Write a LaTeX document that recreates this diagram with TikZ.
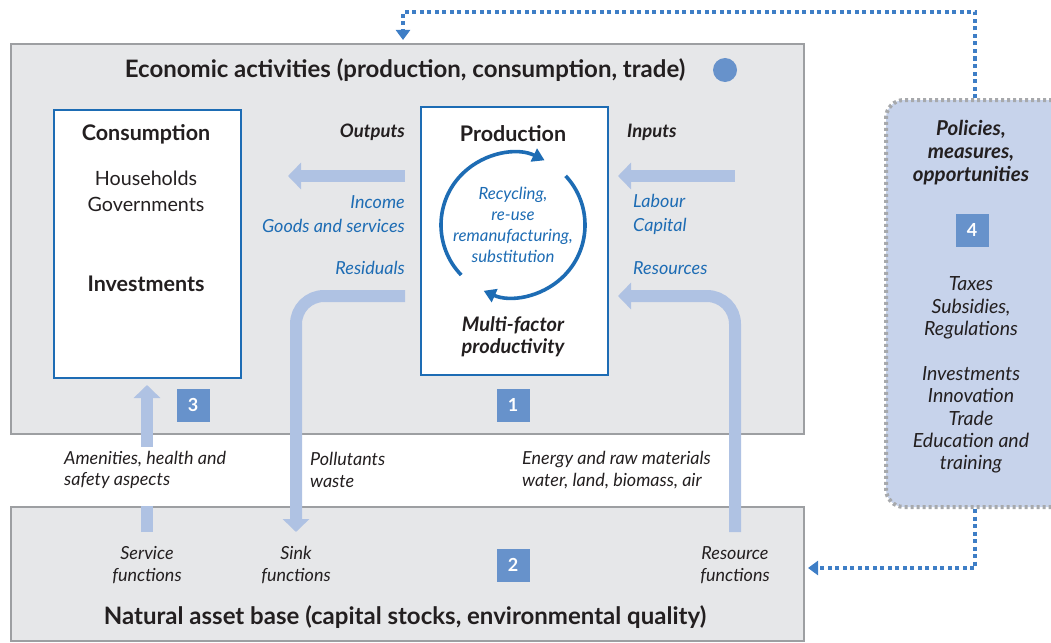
\documentclass[tikz,border=0pt]{standalone}
\usepackage{fontspec}
\setmainfont{Lato}
\usetikzlibrary{arrows.meta,positioning}
\definecolor{oecdpanel}{HTML}{E6E7E9}
\definecolor{oecdframe}{HTML}{9D9FA2}
\definecolor{oecdblue}{HTML}{1D6CB4}
\definecolor{oecdflow}{HTML}{AFC2E3}
\definecolor{oecdmid}{HTML}{6792CB}
\definecolor{oecdpale}{HTML}{C7D3EB}
\definecolor{oecddots}{HTML}{A7A9AC}
\definecolor{oecdlink}{HTML}{3E7EC6}
\definecolor{oecdtext}{HTML}{231F20}
\newcommand{\fs}[2]{\fontsize{#1}{#2}\selectfont}

\begin{document}
\begin{tikzpicture}[
  x=1pt, y=-1pt,
  font=\fs{18}{21.5}, text=oecdtext,
  panel/.style={draw=oecdframe, line width=2pt, fill=oecdpanel, anchor=north west, inner sep=0pt},
  sector/.style={draw=oecdblue, line width=2.2pt, fill=white, anchor=north west, inner sep=0pt,
                 minimum width=187pt, minimum height=268pt},
  heading/.style={font=\fs{24}{26}\bfseries},
  boxtitle/.style={font=\fs{21.5}{24}\bfseries},
  tag/.style={font=\fs{18.5}{20}\bfseries\itshape, inner sep=0pt},
  note/.style={font=\fs{18}{21.5}\itshape, align=center, inner sep=0pt},
  flowlabel/.style={note, font=\fs{18}{24}\itshape, text=oecdblue},
  policynote/.style={note, font=\fs{19.5}{22.3}\itshape},
  badge/.style={fill=oecdmid, text=white, font=\fs{18}{20}\bfseries, minimum size=33pt, inner sep=0pt},
  flow/.style={draw=oecdflow, line width=12pt, -{Triangle[width=26pt, length=13pt]}},
  flowline/.style={draw=oecdflow, line width=12pt},
  loopline/.style={draw=oecdblue, line width=3.6pt, -{Triangle[width=14pt, length=12pt]}},
  policybox/.style={draw=oecddots, line width=4pt, dash pattern=on 3pt off 3pt, fill=oecdpale,
                    rounded corners=18pt, anchor=north west, inner sep=0pt},
  policylink/.style={draw=oecdlink, line width=4pt, dash pattern=on 4pt off 3.5pt,
                     -{Triangle[width=14pt, length=10pt]}}
]
  \useasboundingbox (0,0) rectangle (1051,642);

  \node[panel, minimum width=793pt, minimum height=390pt] (econ) at (10,43) {};
  \node[panel, minimum width=793pt, minimum height=134pt] (nat) at (10,506) {};
  \node[heading] (econtitle) at (405,70) {Economic activities (production, consumption, trade)};
  \node[circle, fill=oecdmid, minimum size=24pt, inner sep=0pt] (spot) at (725,70) {};
  \node[heading] (nattitle) at (405,617) {Natural asset base (capital stocks, environmental quality)};

  \node[sector] (cons) at (53,109) {};
  \node[sector] (prod) at (420,106) {};
  \node[boxtitle] (constitle) at (146,134) {Consumption};
  \node[font=\fs{19.7}{26}, align=center] (households) at (146,191) {Households\\Governments};
  \node[boxtitle] (invest) at (146,284) {Investments};
  \node[boxtitle] (prodtitle) at (513,134) {Production};
  \node[font=\fs{20}{22}\bfseries\itshape, align=center] (mfp) at (513,337) {Multi-factor\\productivity};

  \coordinate (hub) at (513,225);
  \draw[loopline] ([shift={(224:72pt)}]hub) arc[start angle=224, end angle=64, radius=72pt];
  \draw[loopline] ([shift={(43:72pt)}]hub) arc[start angle=43, end angle=-114, radius=72pt];
  \node[flowlabel, font=\fs{16.8}{21}\itshape] (recycle) at (hub) {Recycling,\\re-use\\remanufacturing,\\substitution};

  \node[tag, anchor=east] (outputs) at (405,132) {Outputs};
  \node[flowlabel, anchor=east, align=right] (income) at (405,214) {Income\\Goods and services};
  \node[flowlabel, anchor=east] (residuals) at (405,268) {Residuals};
  \node[tag, anchor=west] (inputs) at (627,132) {Inputs};
  \node[flowlabel, anchor=west, align=left] (labour) at (633,214) {Labour\\Capital};
  \node[flowlabel, anchor=west] (resources) at (633,268) {Resources};

  \node[note, align=left, anchor=west, inner ysep=4pt] (amenities) at (64,470) {Amenities, health and\\safety aspects};
  \node[note, align=left, anchor=west] (pollutants) at (310,470) {Pollutants\\waste};
  \node[note, align=left, anchor=west] (energy) at (522,470) {Energy and raw materials\\water, land, biomass, air};
  \node[note] (service) at (147,565) {Service\\functions};
  \node[note] (sinkfn) at (296,565) {Sink\\functions};
  \node[note] (resourcefn) at (735,565) {Resource\\functions};

  \coordinate (outfrom) at (405,176);
  \coordinate (outto) at (288,176);
  \coordinate (infrom) at (735,176);
  \coordinate (into) at (618,176);
  \coordinate (residfrom) at (405,296);
  \coordinate (resto) at (618,296);
  \coordinate (sink) at (296,532);
  \coordinate (res) at (735,532);
  \coordinate (svc) at (147,532);
  \coordinate (amentip) at (147,385);

  \draw[flow] (outfrom) -- (outto);
  \draw[flow] (infrom) -- (into);
  \draw[flow, rounded corners=28pt] (residfrom) -| (sink);
  \draw[flow, rounded corners=28pt] (res) |- (resto);
  \draw[flowline] (svc) -- (svc |- nat.north);
  \draw[flow] (svc |- amenities.north) -- (amentip);

  \node[badge] (b3) at (193,405) {3};
  \node[badge] (b1) at (513,405) {1};
  \node[badge] (b2) at (513,565) {2};

  \node[policybox, minimum width=220pt, minimum height=407pt] (policy) at (884,98) {};
  \node[font=\fs{20.5}{23}\bfseries\itshape, align=center] (policies) at (971,153) {Policies,\\measures,\\opportunities};
  \node[badge] (b4) at (972,230) {4};
  \node[policynote] (taxes) at (971,308) {Taxes\\Subsidies,\\Regulations};
  \node[policynote] (levers) at (971,420) {Investments\\Innovation\\Trade\\Education and\\training};

  \coordinate (linkx) at (975,12);
  \coordinate (econin) at (403,40);
  \coordinate (natin) at (808,568);
  \draw[policylink] (policy.north -| linkx) -- (linkx) -| (econin);
  \draw[policylink] (policy.south -| linkx) |- (natin);
\end{tikzpicture}
\end{document}
